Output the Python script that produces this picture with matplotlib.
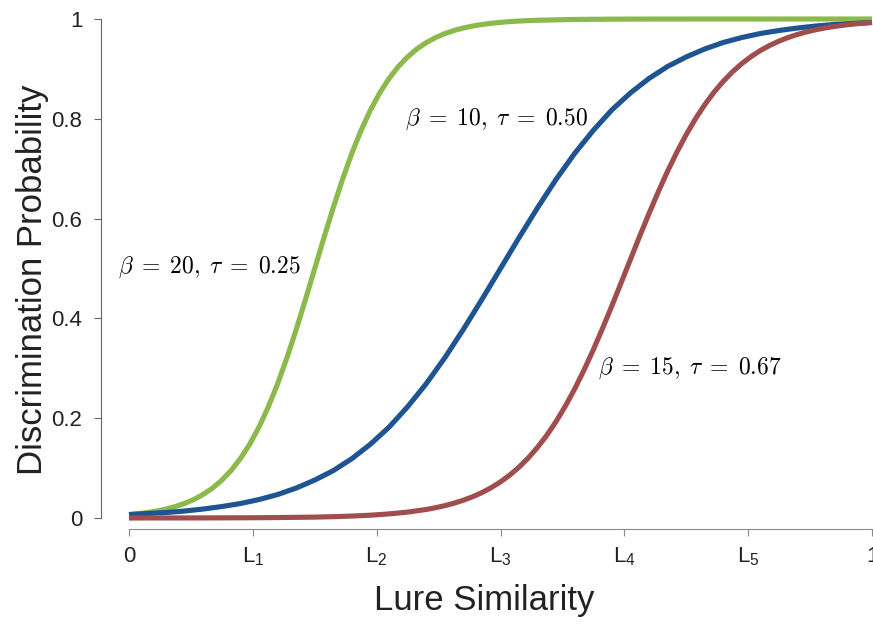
import numpy as np
import matplotlib as mpl
mpl.use('Agg')
import matplotlib.pyplot as plt

mpl.rcParams['font.family'] = ['Liberation Sans', 'DejaVu Sans']
mpl.rcParams['mathtext.fontset'] = 'cm'

# read-off discrimination probabilities vs lure similarity
# beta=20, tau=0.25 (fine steps over the steep part, coarse on the plateau)
green_x = list(np.linspace(0, 0.55, 45)) + [0.6, 0.65, 0.7, 0.8, 0.9, 1.0]
green = [0.0067, 0.0086, 0.0110, 0.0141, 0.0180, 0.0230, 0.0293, 0.0373, 0.0474, 0.0601,
         0.0759, 0.0953, 0.1192, 0.1480, 0.1824, 0.2227, 0.2689, 0.3208, 0.3775, 0.4378,
         0.5000, 0.5622, 0.6225, 0.6792, 0.7311, 0.7773, 0.8176, 0.8520, 0.8808, 0.9047,
         0.9241, 0.9399, 0.9526, 0.9627, 0.9707, 0.9770, 0.9820, 0.9859, 0.9890, 0.9914,
         0.9933, 0.9948, 0.9959, 0.9968, 0.9975,
         0.9991, 0.9997, 0.9999, 1.0000, 1.0000, 1.0000]

# beta=10, tau=0.50
blue_x = np.linspace(0, 1, 41)
blue = [0.007, 0.009, 0.011, 0.014, 0.018, 0.023, 0.029, 0.037, 0.047, 0.060,
        0.076, 0.095, 0.119, 0.148, 0.182, 0.223, 0.269, 0.321, 0.378, 0.438,
        0.500, 0.562, 0.622, 0.679, 0.731, 0.777, 0.818, 0.852, 0.881, 0.905,
        0.924, 0.940, 0.953, 0.963, 0.971, 0.977, 0.982, 0.986, 0.989, 0.991, 0.993]

# beta=15, tau=0.67
red_x = list(np.linspace(0, 0.4, 17)) + list(np.linspace(0.4125, 1, 48))
red = [0.0000, 0.0001, 0.0001, 0.0001, 0.0002, 0.0003, 0.0004, 0.0006, 0.0009, 0.0013,
       0.0018, 0.0027, 0.0039, 0.0056, 0.0082, 0.0118, 0.0171,
       0.0206, 0.0247, 0.0297, 0.0356, 0.0426, 0.0509, 0.0608, 0.0724, 0.0861, 0.1020,
       0.1205, 0.1419, 0.1662, 0.1939, 0.2248, 0.2592, 0.2969, 0.3374, 0.3805, 0.4256,
       0.4719, 0.5187, 0.5653, 0.6106, 0.6542, 0.6953, 0.7335, 0.7685, 0.8002, 0.8285,
       0.8536, 0.8754, 0.8945, 0.9109, 0.9250, 0.9370, 0.9472, 0.9558, 0.9631, 0.9692,
       0.9744, 0.9787, 0.9822, 0.9852, 0.9877, 0.9898, 0.9915, 0.9930]

xticks = [0, 1/6, 2/6, 3/6, 4/6, 5/6, 1]
xticklabels = ['0'] + [r'$\mathregular{L_%d}$' % i for i in range(1, 6)] + ['1']
yticks = [0, 0.2, 0.4, 0.6, 0.8, 1]
yticklabels = ['0', '0.2', '0.4', '0.6', '0.8', '1']

fig = plt.figure(figsize=(8.73, 6.31), dpi=100)
ax = fig.add_axes([129/873, 1 - 518/631, 743/873, 499/631])

lw = 3.7
ax.plot(green_x, green, color='#8BB94C', lw=lw, clip_on=False, solid_capstyle='butt')
ax.plot(blue_x, blue, color='#1F5492', lw=lw, clip_on=False, solid_capstyle='butt')
ax.plot(red_x, red, color='#A04D4D', lw=lw, clip_on=False, solid_capstyle='butt')

ax.text(-0.015, 0.503, r'$\beta\;=\;20,\;\tau\;=\;0.25$', fontsize=17, va='center', ha='left')
ax.text(0.371, 0.800, r'$\beta\;=\;10,\;\tau\;=\;0.50$', fontsize=17, va='center', ha='left')
ax.text(0.631, 0.300, r'$\beta\;=\;15,\;\tau\;=\;0.67$', fontsize=17, va='center', ha='left')

ax.set_xlim(0, 1)
ax.set_ylim(0, 1)
ax.set_xticks(xticks)
ax.set_xticklabels(xticklabels)
ax.set_yticks(yticks)
ax.set_yticklabels(yticklabels)

for s in ['top', 'right']:
    ax.spines[s].set_visible(False)
ax.spines['bottom'].set_position(('outward', 8))
ax.spines['left'].set_position(('outward', 20))
ax.spines['bottom'].set_bounds(0, 1)
ax.spines['left'].set_bounds(0, 1)
ax.spines['bottom'].set_color('#8a8a8a')
ax.spines['left'].set_color('#666666')
ax.tick_params(axis='x', colors='#8a8a8a', labelcolor='#222222', length=5,
               labelsize=16, direction='out', pad=7)
ax.tick_params(axis='y', colors='#666666', labelcolor='#222222', length=5,
               labelsize=16, direction='out', pad=8.5)

ax.set_xlabel('Lure Similarity', fontsize=25, color='#222222')
ax.set_ylabel('Discrimination Probability', fontsize=25, color='#222222')
ax.xaxis.set_label_coords(0.478, -0.132)
ax.yaxis.set_label_coords(-0.108, 0.477)

fig.savefig('out.png', dpi=100)
